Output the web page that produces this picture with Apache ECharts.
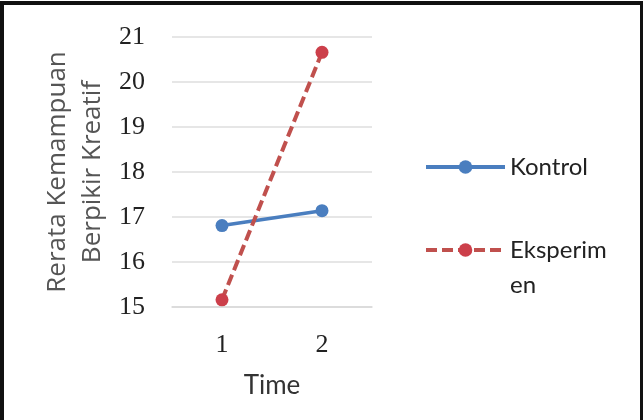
<!DOCTYPE html>
<html>
<head>
<meta charset="utf-8">
<script src="https://cdn.jsdelivr.net/npm/echarts@6/dist/echarts.min.js"></script>
<style>
html,body{margin:0;padding:0;background:#fff;}
#frame{position:absolute;left:0;top:1px;width:636px;height:419px;border:4px solid #111;border-bottom:none;}
#chart{position:absolute;left:0;top:0;width:643px;height:420px;}
</style>
</head>
<body>
<div id="chart"></div>
<div id="frame"></div>
<script>
//数据
var timeLabels = ['1', '2'];
var kontrol = [16.81, 17.14];
var eksperimen = [15.16, 20.66];
var yMin = 15, yMax = 21, yStep = 1;

var myChart = echarts.init(document.getElementById('chart'));

var option = {
	backgroundColor: '#fff',
	animation: false,
	grid: {left: 172, right: 271, top: 37, bottom: 113},
	legend: [
		{
			data: ['Kontrol'],
			left: 419, top: 144.5,
			itemWidth: 79, itemHeight: 17,
			lineStyle: {width: 4},
			textStyle: {fontFamily: 'Lato', fontSize: 24, color: '#222', lineHeight: 35}
		},
		{
			data: ['Eksperimen'],
			left: 419, top: 192.5,
			itemWidth: 79, itemHeight: 17,
			lineStyle: {width: 4},
			// 第一行空，让"Eksperim"和图例线对齐
			formatter: function(name) { return '\nEksperim\nen'; },
			textStyle: {fontFamily: 'Lato', fontSize: 24, color: '#222', lineHeight: 35}
		}
	],
	xAxis: {
		type: 'category',
		data: timeLabels,
		boundaryGap: true,
		name: 'Time',
		nameLocation: 'middle',
		nameGap: 66,
		nameTextStyle: {fontFamily: 'Lato', fontSize: 26, color: '#333'},
		axisLine: {show: true, lineStyle: {color: '#d9d9d9', width: 1.5}},
		axisTick: {show: false},
		axisLabel: {margin: 25, fontFamily: 'Liberation Serif', fontSize: 26, color: '#222'}
	},
	yAxis: {
		type: 'value',
		min: yMin, max: yMax, interval: yStep,
		name: 'Rerata Kemampuan\nBerpikir Kreatif',
		nameLocation: 'middle',
		nameGap: 62,
		nameTextStyle: {fontFamily: 'Open Sans', fontSize: 26, color: '#555', lineHeight: 35},
		axisLine: {show: false},
		axisTick: {show: false},
		axisLabel: {margin: 27, fontFamily: 'Liberation Serif', fontSize: 26, color: '#222'},
		splitLine: {lineStyle: {color: '#dedede', width: 1.5}}
	},
	series: [
		{
			name: 'Kontrol',
			type: 'line',
			data: kontrol,
			symbol: 'circle',
			symbolSize: 13,
			itemStyle: {color: '#4a7ebf'},
			lineStyle: {color: '#4a7ebf', width: 3.5}
		},
		{
			name: 'Eksperimen',
			type: 'line',
			data: eksperimen,
			symbol: 'circle',
			symbolSize: 13,
			itemStyle: {color: '#cc3f4a'},
			lineStyle: {color: '#c0504d', width: 4, type: [11, 5]}
		}
	]
};

myChart.setOption(option);
</script>
</body>
</html>
